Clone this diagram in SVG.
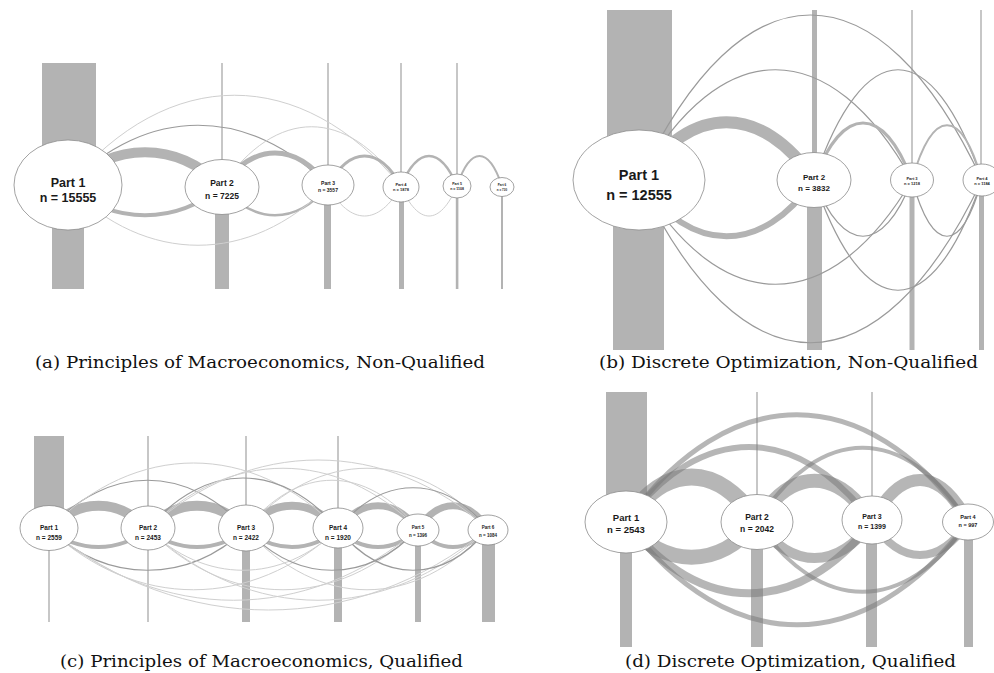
<svg xmlns="http://www.w3.org/2000/svg" width="994" height="673" viewBox="0 0 994 673">
<style>
.bar{fill:#b3b3b3}
.stem{stroke:#8f8f8f;stroke-width:1}
.node ellipse{fill:#fff;stroke:#8a8a8a;stroke-width:0.8}
.lbl{font-family:"Liberation Sans",Arial,sans-serif;font-weight:bold;fill:#1a1a1a;text-anchor:middle}
.cap{font-family:"DejaVu Serif","Liberation Serif",serif;font-size:16px;fill:#111}
#connectors path{fill:none}
.thick{stroke:#b3b3b3}
.light{stroke:#cfcfcf;stroke-width:1}
.mid{stroke:#9a9a9a;stroke-width:1.2}
.dk{stroke:#7a7a7a;stroke-opacity:0.55}
</style>
<rect width="994" height="673" fill="#fff"/>

<g id="volumes">
  <!-- (a) -->
  <rect class="bar" x="42" y="63" width="54" height="122"/>
  <rect class="bar" x="52" y="185" width="32" height="104"/>
  <line class="stem" x1="222" y1="63" x2="222" y2="187"/>
  <rect class="bar" x="215" y="187" width="14" height="102"/>
  <line class="stem" x1="328" y1="63" x2="328" y2="185"/>
  <rect class="bar" x="324" y="185" width="7" height="104"/>
  <line class="stem" x1="401" y1="63" x2="401" y2="187"/>
  <rect class="bar" x="399" y="187" width="5" height="102"/>
  <line class="stem" x1="457" y1="63" x2="457" y2="186"/>
  <rect class="bar" x="455.8" y="186" width="2.6" height="103"/>
  <rect class="bar" x="501" y="187" width="2" height="102"/>
  <!-- (b) -->
  <rect class="bar" x="607" y="10" width="65" height="170"/>
  <rect class="bar" x="613" y="180" width="51" height="170"/>
  <rect class="bar" x="812" y="10" width="5" height="170"/>
  <rect class="bar" x="807" y="180" width="15" height="170"/>
  <line class="stem" x1="912" y1="10" x2="912" y2="180"/>
  <rect class="bar" x="909.5" y="180" width="5" height="170"/>
  <line class="stem" x1="981" y1="10" x2="981" y2="180"/>
  <rect class="bar" x="979" y="180" width="5" height="170"/>
  <!-- (c) -->
  <rect class="bar" x="34" y="436" width="30" height="92"/>
  <line class="stem" x1="49" y1="528" x2="49" y2="622"/>
  <line class="stem" x1="148" y1="436" x2="148" y2="622"/>
  <line class="stem" x1="246" y1="436" x2="246" y2="528"/>
  <rect class="bar" x="242" y="528" width="8" height="94"/>
  <line class="stem" x1="338" y1="436" x2="338" y2="528"/>
  <rect class="bar" x="334" y="528" width="8" height="94"/>
  <rect class="bar" x="415" y="530" width="6" height="92"/>
  <rect class="bar" x="482" y="530" width="13" height="92"/>
  <!-- (d) -->
  <rect class="bar" x="606" y="392" width="41" height="130"/>
  <rect class="bar" x="620" y="522" width="12" height="125"/>
  <line class="stem" x1="757" y1="392" x2="757" y2="522"/>
  <rect class="bar" x="751" y="522" width="12" height="125"/>
  <line class="stem" x1="872" y1="392" x2="872" y2="520"/>
  <rect class="bar" x="866" y="520" width="11" height="127"/>
  <rect class="bar" x="964" y="522" width="9" height="125"/>
</g>

<g id="connectors">
  <!-- (a) -->
  <path class="thick" stroke-width="10" d="M68 186 C114 141,176 141,222 186"/>
  <path class="thick" stroke-width="4" d="M68 186 C114 225,176 225,222 186"/>
  <path class="mid" d="M68 186 C146 105,250 105,328 186"/>
  <path class="light" d="M68 186 C168 65,301 65,401 186"/>
  <path class="light" d="M222 186 C276 107,347 107,401 186"/>
  <path class="thick" stroke-width="5" d="M222 186 C254 142,296 142,328 186"/>
  <path class="thick" stroke="#a3a3a3" stroke-width="2.5" d="M222 186 C254 225,296 225,328 186"/>
  <path class="thick" stroke-width="3" d="M328 186 C350 146,379 146,401 186"/>
  <path class="light" d="M328 186 C350 226,379 226,401 186"/>
  <path class="thick" stroke-width="2.5" d="M401 186 C418 146,440 146,457 186"/>
  <path class="light" d="M401 186 C418 226,440 226,457 186"/>
  <path class="thick" stroke-width="2" d="M457 186 C470.5 146,488.5 146,502 186"/>
  <path class="light" d="M68 186 C146 265,250 265,328 186"/>

  <!-- (b) -->
  <path class="thick" stroke-width="12" d="M639 180 C691 103,762 103,814 180"/>
  <path class="thick" stroke-width="6" d="M639 180 C691 255,762 255,814 180"/>
  <path class="mid" d="M639 180 C742 -40,879 -40,982 180"/>
  <path class="mid" d="M639 180 C721 33,830 33,912 180"/>
  <path class="mid" stroke="#a8a8a8" d="M814 180 C864 33,932 33,982 180"/>
  <path class="thick" stroke="#a6a6a6" stroke-width="3" d="M814 180 C843 104,883 104,912 180"/>
  <path class="thick" stroke="#a6a6a6" stroke-width="2" d="M912 180 C933 107,961 107,982 180"/>
  <path class="mid" d="M639 180 C742 397,879 397,982 180"/>
  <path class="mid" stroke="#a8a8a8" d="M639 180 C721 319,830 319,912 180"/>
  <path class="mid" stroke="#a8a8a8" d="M814 180 C843 255,883 255,912 180"/>
  <path class="mid" stroke="#a8a8a8" d="M814 180 C864 327,932 327,982 180"/>
  <path class="mid" stroke="#a8a8a8" d="M912 180 C933 255,961 255,982 180"/>

  <!-- (c) -->
  <path class="thick" stroke-width="10" d="M49 529 C79 498,118 498,148 529"/>
  <path class="thick" stroke-width="10" d="M148 529 C177 498,217 498,246 529"/>
  <path class="thick" stroke-width="8" d="M246 529 C274 498,310 498,338 529"/>
  <path class="thick" stroke-width="7" d="M338 529 C362 498,394 498,418 529"/>
  <path class="thick" stroke-width="7" d="M418 529 C439 498,467 498,488 529"/>
  <path class="thick" stroke-width="4" d="M49 529 C79 553,118 553,148 529"/>
  <path class="thick" stroke-width="4" d="M148 529 C177 553,217 553,246 529"/>
  <path class="thick" stroke-width="4" d="M246 529 C274 553,310 553,338 529"/>
  <path class="thick" stroke-width="4" d="M338 529 C362 553,394 553,418 529"/>
  <path class="thick" stroke-width="4" d="M418 529 C439 553,467 553,488 529"/>
  <path class="mid" stroke="#8a8a8a" d="M49 529 C108 464,187 464,246 529"/>
  <path class="light" d="M49 529 C136 441,251 441,338 529"/>
  <path class="mid" stroke="#8a8a8a" d="M148 529 C205 461,281 461,338 529"/>
  <path class="light" d="M148 529 C229 448,337 448,418 529"/>
  <path class="light" d="M148 529 C250 437,386 437,488 529"/>
  <path class="light" d="M246 529 C298 464,366 464,418 529"/>
  <path class="light" d="M246 529 C319 448,415 448,488 529"/>
  <path class="mid" stroke="#8a8a8a" d="M338 529 C383 474,443 474,488 529"/>
  <path class="mid" stroke="#8a8a8a" d="M49 529 C108 584,187 584,246 529"/>
  <path class="light" d="M49 529 C136 610,251 610,338 529"/>
  <path class="light" d="M49 529 C160 624,307 624,418 529"/>
  <path class="light" d="M49 529 C181 637,356 637,488 529"/>
  <path class="light" d="M148 529 C205 584,281 584,338 529"/>
  <path class="light" d="M148 529 C229 610,337 610,418 529"/>
  <path class="light" d="M148 529 C250 624,386 624,488 529"/>
  <path class="mid" stroke="#8a8a8a" d="M246 529 C298 584,366 584,418 529"/>
  <path class="light" d="M246 529 C319 610,415 610,488 529"/>
  <path class="mid" stroke="#8a8a8a" d="M338 529 C383 584,443 584,488 529"/>

  <!-- (d) -->
  <path class="dk" stroke-width="17" d="M626 522 C665 462,718 462,757 522"/>
  <path class="dk" stroke-width="15" d="M626 522 C665 569,718 569,757 522"/>
  <path class="dk" stroke-width="14" d="M757 522 C792 467,837 467,872 522"/>
  <path class="dk" stroke-width="10" d="M757 522 C792 570,837 570,872 522"/>
  <path class="dk" stroke-width="12" d="M872 522 C901 466,939 466,968 522"/>
  <path class="dk" stroke-width="8" d="M872 522 C901 566,939 566,968 522"/>
  <path class="dk" stroke-width="6" d="M626 522 C700 422,798 422,872 522"/>
  <path class="dk" stroke-width="5" d="M626 522 C729 379,865 379,968 522"/>
  <path class="dk" stroke-width="4" d="M757 522 C820 423,905 423,968 522"/>
  <path class="dk" stroke-width="8" d="M626 522 C700 617,798 617,872 522"/>
  <path class="dk" stroke-width="5" d="M626 522 C729 659,865 659,968 522"/>
  <path class="dk" stroke-width="4" d="M757 522 C820 615,905 615,968 522"/>
</g>

<!-- (a) nodes -->
<g id="a-part1" class="node"><ellipse cx="68" cy="185" rx="54" ry="45"/>
  <text class="lbl" x="68" y="187" font-size="12.5">Part 1</text><text class="lbl" x="68" y="202" font-size="12.5">n = 15555</text></g>
<g id="a-part2" class="node"><ellipse cx="222" cy="187" rx="37" ry="27.5"/>
  <text class="lbl" x="222" y="186.3" font-size="8.5">Part 2</text><text class="lbl" x="222" y="198.7" font-size="8.5">n = 7225</text></g>
<g id="a-part3" class="node"><ellipse cx="328" cy="185" rx="26" ry="20"/>
  <text class="lbl" x="328" y="185" font-size="5">Part 3</text><text class="lbl" x="328" y="192" font-size="5">n = 3557</text></g>
<g id="a-part4" class="node"><ellipse cx="401" cy="187" rx="18" ry="15"/>
  <text class="lbl" x="401" y="185.5" font-size="4">Part 4</text><text class="lbl" x="401" y="191" font-size="4">n = 1878</text></g>
<g id="a-part5" class="node"><ellipse cx="457" cy="186" rx="14" ry="12"/>
  <text class="lbl" x="457" y="185" font-size="3.5">Part 5</text><text class="lbl" x="457" y="190" font-size="3.5">n = 1108</text></g>
<g id="a-part6" class="node"><ellipse cx="502" cy="187" rx="12" ry="9.5"/>
  <text class="lbl" x="502" y="186" font-size="3">Part 6</text><text class="lbl" x="502" y="190.5" font-size="3">n = 730</text></g>

<!-- (b) nodes -->
<g id="b-part1" class="node"><ellipse cx="639" cy="180" rx="66" ry="50"/>
  <text class="lbl" x="639" y="180" font-size="14.5">Part 1</text><text class="lbl" x="639" y="200" font-size="14.5">n = 12555</text></g>
<g id="b-part2" class="node"><ellipse cx="814" cy="180" rx="37" ry="27.5"/>
  <text class="lbl" x="814" y="180" font-size="8">Part 2</text><text class="lbl" x="814" y="191" font-size="8">n = 3832</text></g>
<g id="b-part3" class="node"><ellipse cx="912" cy="180" rx="21.5" ry="17"/>
  <text class="lbl" x="912" y="179.5" font-size="4">Part 3</text><text class="lbl" x="912" y="185" font-size="4">n = 1218</text></g>
<g id="b-part4" class="node"><ellipse cx="982" cy="180" rx="19" ry="16"/>
  <text class="lbl" x="982" y="179.5" font-size="4">Part 4</text><text class="lbl" x="982" y="185" font-size="4">n = 1184</text></g>

<!-- (c) nodes -->
<g id="c-part1" class="node"><ellipse cx="49" cy="528" rx="29" ry="22.5"/>
  <text class="lbl" x="49" y="529.5" font-size="6.5">Part 1</text><text class="lbl" x="49" y="539.5" font-size="6.5">n = 2559</text></g>
<g id="c-part2" class="node"><ellipse cx="148" cy="528" rx="27" ry="22"/>
  <text class="lbl" x="148" y="529.5" font-size="6.5">Part 2</text><text class="lbl" x="148" y="539.5" font-size="6.5">n = 2453</text></g>
<g id="c-part3" class="node"><ellipse cx="246" cy="528" rx="27.5" ry="23"/>
  <text class="lbl" x="246" y="529.5" font-size="6.5">Part 3</text><text class="lbl" x="246" y="539.5" font-size="6.5">n = 2422</text></g>
<g id="c-part4" class="node"><ellipse cx="338" cy="528" rx="25" ry="20"/>
  <text class="lbl" x="338" y="529.5" font-size="6.5">Part 4</text><text class="lbl" x="338" y="539.5" font-size="6.5">n = 1920</text></g>
<g id="c-part5" class="node"><ellipse cx="418" cy="530" rx="21" ry="16"/>
  <text class="lbl" x="418" y="528.5" font-size="4.5">Part 5</text><text class="lbl" x="418" y="536.5" font-size="4.5">n = 1396</text></g>
<g id="c-part6" class="node"><ellipse cx="488" cy="530" rx="20" ry="15"/>
  <text class="lbl" x="488" y="528.5" font-size="4.5">Part 6</text><text class="lbl" x="488" y="536.5" font-size="4.5">n = 1084</text></g>

<!-- (d) nodes -->
<g id="d-part1" class="node"><ellipse cx="626" cy="522" rx="41" ry="31"/>
  <text class="lbl" x="626" y="520.5" font-size="9.5">Part 1</text><text class="lbl" x="626" y="532.5" font-size="9.5">n = 2543</text></g>
<g id="d-part2" class="node"><ellipse cx="757" cy="522" rx="36" ry="27.5"/>
  <text class="lbl" x="757" y="520" font-size="8.5">Part 2</text><text class="lbl" x="757" y="531.5" font-size="8.5">n = 2042</text></g>
<g id="d-part3" class="node"><ellipse cx="872" cy="520" rx="30" ry="24"/>
  <text class="lbl" x="872" y="519" font-size="7">Part 3</text><text class="lbl" x="872" y="529" font-size="7">n = 1399</text></g>
<g id="d-part4" class="node"><ellipse cx="968" cy="522" rx="25.5" ry="18"/>
  <text class="lbl" x="968" y="518.5" font-size="5.5">Part 4</text><text class="lbl" x="968" y="527" font-size="5.5">n = 997</text></g>

<g id="captions">
  <text class="cap" x="35" y="368" textLength="450" lengthAdjust="spacingAndGlyphs">(a) Principles of Macroeconomics, Non-Qualified</text>
  <text class="cap" x="599" y="368" textLength="379" lengthAdjust="spacingAndGlyphs">(b) Discrete Optimization, Non-Qualified</text>
  <text class="cap" x="60" y="667" textLength="403" lengthAdjust="spacingAndGlyphs">(c) Principles of Macroeconomics, Qualified</text>
  <text class="cap" x="625" y="667" textLength="331" lengthAdjust="spacingAndGlyphs">(d) Discrete Optimization, Qualified</text>
</g>
</svg>
